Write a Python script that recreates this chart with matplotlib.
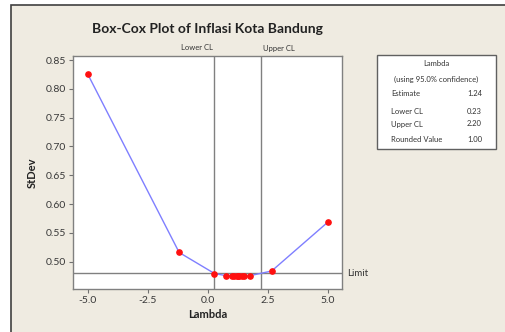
import matplotlib.pyplot as plt
from matplotlib.patches import Rectangle

# Box-Cox evaluation points
lam = [-5.0, -1.2, 0.27, 0.75, 1.0, 1.1, 1.2, 1.24, 1.3, 1.4, 1.5, 1.74, 2.65, 5.0]
stdev = [0.825, 0.516, 0.4795, 0.4757, 0.4752, 0.4751, 0.4750, 0.4750,
         0.4750, 0.4751, 0.4752, 0.4757, 0.4838, 0.569]
limit = 0.4798
lower_cl = 0.23
upper_cl = 2.20
xticks = [-5.0, -2.5, 0.0, 2.5, 5.0]
yticks = [0.50, 0.55, 0.60, 0.65, 0.70, 0.75, 0.80, 0.85]
info_rows = [("Estimate", "1.24"), ("Lower CL", "0.23"), ("Upper CL", "2.20"),
             ("Rounded Value", "1.00")]

W, H = 505, 332
bg = "#efebe1"
txt = "#333333"
plt.rcParams['font.family'] = ['Lato', 'DejaVu Sans']

fig = plt.figure(figsize=(W / 100, H / 100), dpi=100)
fig.patch.set_facecolor("white")
# minitab style outer panel (right and bottom run off the picture)
fig.patches.append(Rectangle((11 / W, -0.5), 1.5, 1.5 - 5 / H, transform=fig.transFigure,
                             facecolor=bg, edgecolor="#404040", linewidth=1.2, zorder=-5))

def fx(px):
    return px / W

def fy(py):
    return 1 - py / H

ax = fig.add_axes([fx(73), fy(289), fx(342) - fx(73), fy(56) - fy(289)])
ax.set_zorder(2)
ax.set_facecolor("white")
ax.set_xlim(-5.62, 5.58)
ax.set_ylim(0.4526, 0.857)

ax.axhline(limit, color="#808080", lw=1.0, zorder=1)
ax.axvline(lower_cl, color="#808080", lw=1.0, zorder=1)
ax.axvline(upper_cl, color="#808080", lw=1.0, zorder=1)
ax.plot(lam, stdev, color="#7f7fff", lw=1.0, zorder=2)
ax.plot(lam, stdev, "o", color="#ff1010", ms=3.8, zorder=3)

ax.set_xticks(xticks)
ax.set_xticklabels([f"{v:.1f}" for v in xticks])
ax.set_yticks(yticks)
ax.set_yticklabels([f"{v:.2f}" for v in yticks])
ax.tick_params(direction="out", length=3, width=0.8, colors="#707070",
               labelcolor="#383838", labelsize=7.5, pad=2)
for s in ax.spines.values():
    s.set_color("#808080")
    s.set_linewidth(1.0)

ax.set_xlabel("Lambda", fontsize=8, fontweight="bold", color="#222222", labelpad=3)
ax.set_ylabel("StDev", fontsize=8, fontweight="bold", color="#222222", labelpad=6)

fig.text(fx(207), fy(29), "Box-Cox Plot of Inflasi Kota Bandung", fontsize=10,
         fontweight="bold", color="#222222", ha="center", va="center")
fig.text(fx(213), fy(48), "Lower CL", fontsize=5.5, color=txt, ha="right", va="center")
fig.text(fx(263), fy(48), "Upper CL", fontsize=5.5, color=txt, ha="left", va="center")
fig.text(fx(347), fy(273), "Limit", fontsize=7, color=txt, ha="left", va="center")

# info box
fig.patches.append(Rectangle((fx(377), fy(149)), fx(496) - fx(377), fy(55) - fy(149),
                             transform=fig.transFigure, facecolor="white",
                             edgecolor="#606060", linewidth=1.0, zorder=1))
fig.text(fx(436), fy(64), "Lambda", fontsize=5.5, color=txt, ha="center", va="center")
fig.text(fx(436), fy(79), "(using 95.0% confidence)", fontsize=5.5, color=txt,
         ha="center", va="center")
for (lab, val), y in zip(info_rows, [94, 112, 124, 140]):
    fig.text(fx(391), fy(y), lab, fontsize=5.5, color=txt, ha="left", va="center")
    fig.text(fx(482), fy(y), val, fontsize=5.5, color=txt, ha="right", va="center")

fig.savefig("out.png", dpi=100, facecolor=fig.get_facecolor())
